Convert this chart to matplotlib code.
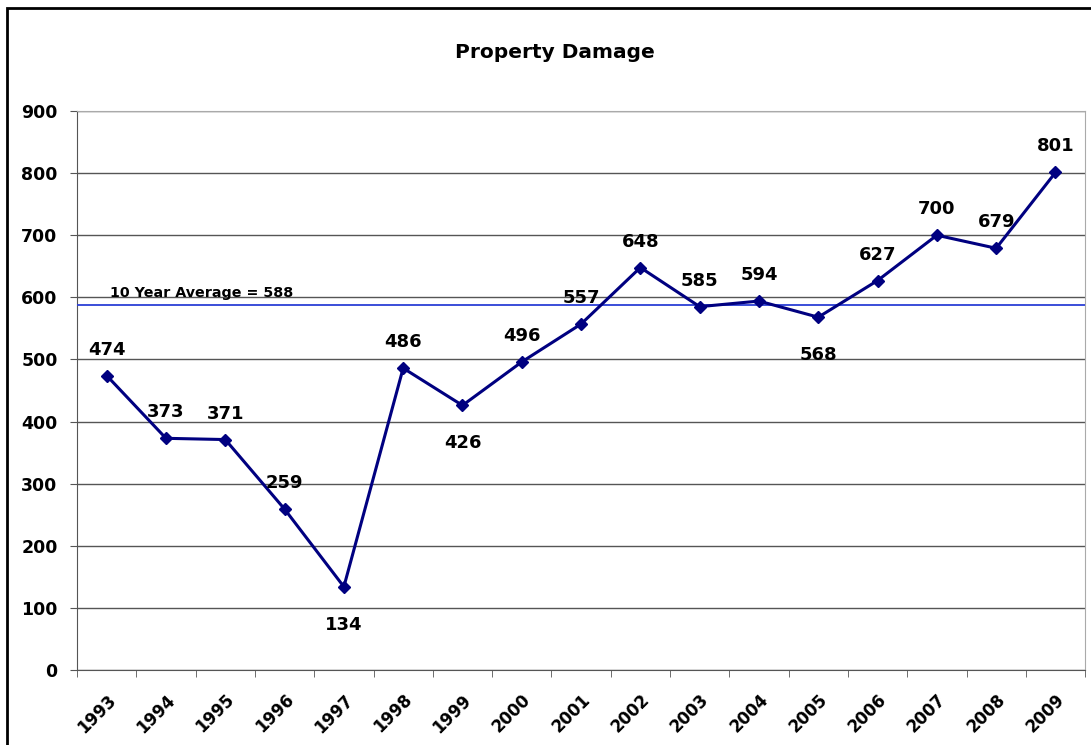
import numpy as np
import matplotlib.pyplot as plt
from matplotlib.patches import Rectangle

# data
years = ['1993', '1994', '1995', '1996', '1997', '1998', '1999', '2000', '2001',
         '2002', '2003', '2004', '2005', '2006', '2007', '2008', '2009']
damage = [474, 373, 371, 259, 134, 486, 426, 496, 557, 648, 585, 594, 568, 627, 700, 679, 801]
# label above (1) or below (-1) the point
label_side = [1, 1, 1, 1, -1, 1, -1, 1, 1, 1, 1, 1, -1, 1, 1, 1, 1]
avg_value = 588
avg_text = '10 Year Average = 588'
title = 'Property Damage'

plt.rcParams['font.family'] = ['DejaVu Sans']

fig = plt.figure(figsize=(10.91, 7.45), dpi=100)
ax = fig.add_axes([0.0706, 0.1007, 0.924, 0.7503])

x = np.arange(len(years))
ax.plot(x, damage, color='#000080', lw=2.2, marker='D', ms=6.5, zorder=4)
ax.axhline(avg_value, color='#2b3fd6', lw=1.3, zorder=3)
ax.text(0.05, avg_value + 8, avg_text, fontsize=10.3, fontweight='bold', va='bottom', ha='left')

for xi, v, s in zip(x, damage, label_side):
    off = 26 if s > 0 else -38
    ax.annotate(str(v), (xi, v), xytext=(0, off), textcoords='offset pixels',
                ha='center', va='center', fontsize=13, fontweight='bold', zorder=5)

ax.set_xlim(-0.5, len(years) - 0.5)
ax.set_ylim(0, 900)
ax.set_yticks(range(0, 901, 100))
ax.set_yticklabels([str(t) for t in range(0, 901, 100)], fontsize=12.5, fontweight='bold')
ax.yaxis.grid(True, color='#555555', lw=1)
ax.set_axisbelow(True)

ax.set_xticks(x)
ax.set_xticklabels(years, rotation=45, ha='right', rotation_mode='anchor', fontsize=12, fontweight='bold')
ax.tick_params(axis='x', which='major', length=0, pad=15)
ax.set_xticks(np.arange(-0.5, len(years)), minor=True)
ax.tick_params(axis='x', which='minor', length=5, color='#555555')
ax.tick_params(axis='y', length=5, color='#555555', pad=9)

for side in ['left', 'bottom']:
    ax.spines[side].set_color('#555555')
for side in ['top', 'right']:
    ax.spines[side].set_color('#aaaaaa')

fig.text(0.509, 0.929, title, ha='center', va='center', fontsize=14.5, fontweight='bold')

# outer chart border
fig.patches.append(Rectangle((7 / 1091, -0.1), 1.2, 1.1 - 8 / 745, transform=fig.transFigure,
                             fill=False, edgecolor='black', lw=2, clip_on=False))

fig.savefig('out.png', dpi=100)
